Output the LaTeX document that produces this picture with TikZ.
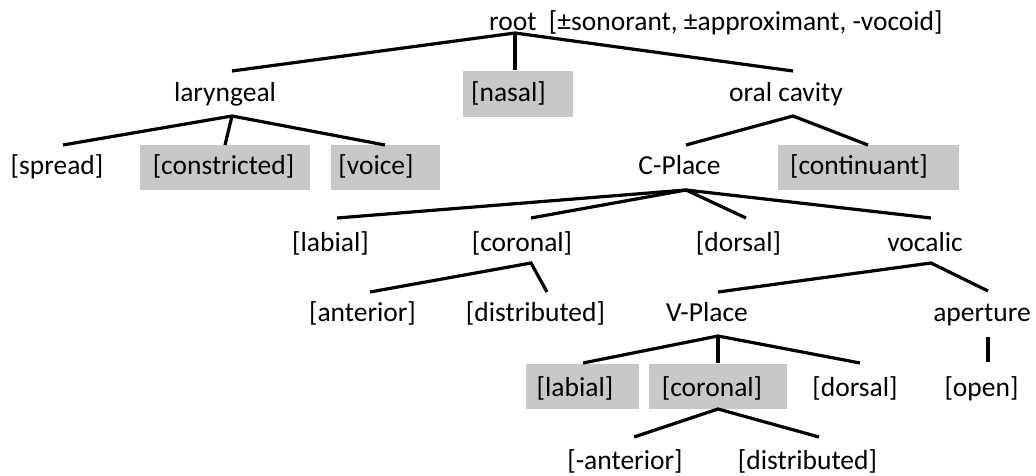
\documentclass[tikz,border=0pt]{standalone}
\usepackage{fontspec}
\setmainfont{Carlito}
\definecolor{boxgray}{RGB}{200,200,200}
\begin{document}
\begin{tikzpicture}[x=1pt,y=-1pt,
  lbl/.style={font=\fontsize{27.5}{32}\selectfont, inner sep=0pt, text height=20pt, text depth=4pt},
  shadebox/.style={fill=boxgray, draw=none, inner sep=0pt, minimum height=45pt},
  branch/.style={line width=3.2pt}]
\useasboundingbox (0,0) rectangle (1036,476);

% shaded boxes
\node[shadebox, minimum width=110pt, minimum height=46pt] (nasalbox) at (518,94) {};
\node[shadebox, minimum width=170pt] (constrictedbox) at (225,167.5) {};
\node[shadebox, minimum width=109pt] (voicebox) at (385.5,167.5) {};
\node[shadebox, minimum width=181pt] (continuantbox) at (868.5,167.5) {};
\node[shadebox, minimum width=113pt] (labialBbox) at (582.5,386.5) {};
\node[shadebox, minimum width=138pt] (coronalBbox) at (718,386.5) {};

% labels
\node[lbl, anchor=west] (root) at (489,23) {root\ \ [±sonorant, ±approximant, -vocoid]};
\node[lbl] (laryngeal) at (225,94) {laryngeal};
\node[lbl] (nasal) at (508.5,94) {[nasal]};
\node[lbl] (oral) at (786,94) {oral cavity};
\node[lbl] (spread) at (57,167) {[spread]};
\node[lbl] (constricted) at (223.5,167) {[constricted]};
\node[lbl] (voice) at (376,167) {[voice]};
\node[lbl] (cplace) at (679.5,167) {C-Place};
\node[lbl] (continuant) at (859,167) {[continuant]};
\node[lbl] (labial) at (330.5,243) {[labial]};
\node[lbl] (coronal) at (522,243) {[coronal]};
\node[lbl] (dorsal) at (738.5,243) {[dorsal]};
\node[lbl] (vocalic) at (925,243) {vocalic};
\node[lbl] (anterior) at (362.5,313) {[anterior]};
\node[lbl] (distributed) at (535.5,313) {[distributed]};
\node[lbl] (vplace) at (707,313) {V-Place};
\node[lbl] (aperture) at (982,313) {aperture};
\node[lbl] (labialB) at (575,388) {[labial]};
\node[lbl] (coronalB) at (712,388) {[coronal]};
\node[lbl] (dorsalB) at (855,388) {[dorsal]};
\node[lbl] (open) at (981.5,388) {[open]};
\node[lbl] (anteriorB) at (625,461) {[-anterior]};
\node[lbl] (distributedB) at (807.5,461) {[distributed]};

% branch points
\coordinate (rootApex) at (515,33);
\coordinate (larTop) at (232,71);
\coordinate (nasTop) at (515,70);
\coordinate (oralTop) at (793,71);
\coordinate (larApex) at (232,116);
\coordinate (spreadTop) at (63,145);
\coordinate (constrTop) at (225,145);
\coordinate (voiceTop) at (385,145);
\coordinate (oralApex) at (793,116);
\coordinate (cplaceTop) at (686,145);
\coordinate (contTop) at (868,145);
\coordinate (cplaceApex) at (686,190);
\coordinate (labTop) at (337,218);
\coordinate (corTop) at (531,218);
\coordinate (dorTop) at (746,218);
\coordinate (vocTop) at (931,218);
\coordinate (corApex) at (531,263);
\coordinate (antTop) at (370,292);
\coordinate (distTop) at (547,292);
\coordinate (vocApex) at (931,263);
\coordinate (vplTop) at (718,292);
\coordinate (apTop) at (988,291);
\coordinate (vplApex) at (718,336);
\coordinate (labBTop) at (583,363);
\coordinate (corBTop) at (718,363);
\coordinate (dorBTop) at (860,363);
\coordinate (apApex) at (988,337);
\coordinate (openTop) at (988,362);
\coordinate (corBApex) at (718,409);
\coordinate (antBTop) at (634,437);
\coordinate (distBTop) at (819,437);

% connectors
\draw[branch] (larTop) -- (rootApex) -- (oralTop);
\draw[branch] (rootApex) -- (nasTop);
\draw[branch] (spreadTop) -- (larApex) -- (voiceTop);
\draw[branch] (larApex) -- (constrTop);
\draw[branch] (cplaceTop) -- (oralApex) -- (contTop);
\draw[branch] (labTop) -- (cplaceApex) -- (vocTop);
\draw[branch] (corTop) -- (cplaceApex) -- (dorTop);
\draw[branch] (antTop) -- (corApex) -- (distTop);
\draw[branch] (vplTop) -- (vocApex) -- (apTop);
\draw[branch] (labBTop) -- (vplApex) -- (dorBTop);
\draw[branch] (vplApex) -- (corBTop);
\draw[branch] (apApex) -- (openTop);
\draw[branch] (antBTop) -- (corBApex) -- (distBTop);
\end{tikzpicture}
\end{document}
